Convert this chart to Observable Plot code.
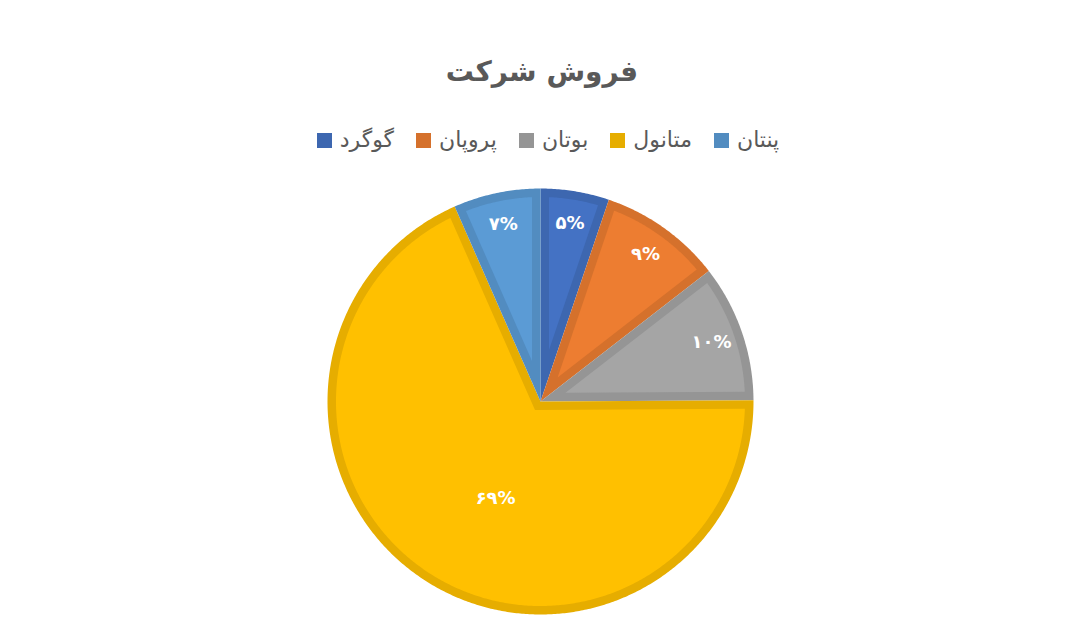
<!DOCTYPE html>
<html>
<head>
<meta charset="utf-8">
<script src="https://cdn.jsdelivr.net/npm/d3@7"></script>
<script src="https://cdn.jsdelivr.net/npm/@observablehq/plot@0.6"></script>
<style>
  html, body { margin: 0; padding: 0; background: #fff; }
  body { width: 1084px; height: 638px; position: relative; overflow: hidden; font-family: "DejaVu Sans", sans-serif; }
  #title { position: absolute; left: 0; width: 1084px; top: 52px; line-height: 40px; text-align: center;
           font-size: 28px; font-weight: bold; color: #595959; direction: rtl; }
  #legend { position: absolute; left: 6px; width: 1084px; top: 127px; height: 26px; display: flex;
            justify-content: center; align-items: center; color: #595959; font-size: 22px; }
  .item { display: flex; align-items: center; margin: 0 11px; }
  .sw { width: 15px; height: 15px; margin-right: 8px; }
  .lbl { direction: rtl; line-height: 26px; }
  #chart { position: absolute; left: 0; top: 170px; }
</style>
</head>
<body>
<div id="title"></div>
<div id="legend"></div>
<div id="chart"></div>
<script>
// ---- data ----
const chartTitle = "فروش شرکت";
const categories = ["گوگرد", "پروپان", "بوتان", "متانول", "پنتان"];
const sales = [52, 93, 104, 685, 66];
// ---- palette ----
const fillColors = ["#4472C4", "#ED7D31", "#A5A5A5", "#FFC000", "#5B9BD5"];
const borderColors = ["#3D67B0", "#D5712C", "#959595", "#E6AD00", "#528CC0"];

const R = 213, BW = 8.5;
const total = d3.sum(sales);
const rows = categories.map((name, i) => ({name, value: sales[i], i}));
const arcs = d3.pie().sort(null).value(d => d.value)(rows);

const faDigits = "۰۱۲۳۴۵۶۷۸۹";
const toFa = s => String(s).replace(/[0-9]/g, c => faDigits[+c]);

const pt = (r, a) => ({x: r * Math.sin(a), y: r * Math.cos(a)});
const step = Math.PI / 360;

const outerRows = [], innerRows = [], labelRows = [];
for (const a of arcs) {
  const {name, i} = a.data;
  const a0 = a.startAngle, a1 = a.endAngle, mid = (a0 + a1) / 2;
  // outer wedge (border colour)
  const n = Math.ceil((a1 - a0) / step);
  outerRows.push({name, c: borderColors[i], ...pt(0, 0)});
  for (let k = 0; k <= n; k++) outerRows.push({name, c: borderColors[i], ...pt(R, a0 + (a1 - a0) * k / n)});
  outerRows.push({name, c: borderColors[i], ...pt(0, 0)});
  // inset wedge (fill colour)
  const half = (a1 - a0) / 2;
  const s = BW / Math.sin(half);
  const ri = R - BW;
  const del = Math.asin(BW / ri);
  const b0 = a0 + del, b1 = a1 - del;
  const m = Math.ceil((b1 - b0) / step);
  const apex = pt(s, mid);
  innerRows.push({name, c: fillColors[i], ...apex});
  for (let k = 0; k <= m; k++) innerRows.push({name, c: fillColors[i], ...pt(ri, b0 + (b1 - b0) * k / m)});
  innerRows.push({name, c: fillColors[i], ...apex});
  // label
  const share = a.data.value / total;
  const big = share > 0.5;
  const lr = big ? R * 0.5 : R * 0.85;
  const la = big ? mid - 0.14 : mid;
  labelRows.push({name, text: toFa(Math.round(share * 100 + 1e-9)) + "%", ...pt(lr, la)});
}

document.getElementById("title").textContent = chartTitle;

const legend = document.getElementById("legend");
categories.forEach((name, i) => {
  const it = document.createElement("div"); it.className = "item";
  const sw = document.createElement("div"); sw.className = "sw"; sw.style.background = borderColors[i];
  const lb = document.createElement("div"); lb.className = "lbl"; lb.textContent = name;
  it.appendChild(sw); it.appendChild(lb); legend.appendChild(it);
});

const plot = Plot.plot({
  width: 1084,
  height: 468,
  margin: 0,
  x: {domain: [-540, 544], axis: null},
  y: {domain: [-237, 231], axis: null},
  color: {type: "identity"},
  marks: [
    Plot.line(outerRows, {x: "x", y: "y", z: "name", fill: "c", stroke: "none", curve: "linear"}),
    Plot.line(innerRows, {x: "x", y: "y", z: "name", fill: "c", stroke: "none", curve: "linear"}),
    Plot.text(labelRows, {x: "x", y: "y", text: "text", fill: "white", fontSize: 18, fontWeight: "bold",
                          fontFamily: "DejaVu Sans", textAnchor: "middle"})
  ]
});
document.getElementById("chart").appendChild(plot);
</script>
</body>
</html>
